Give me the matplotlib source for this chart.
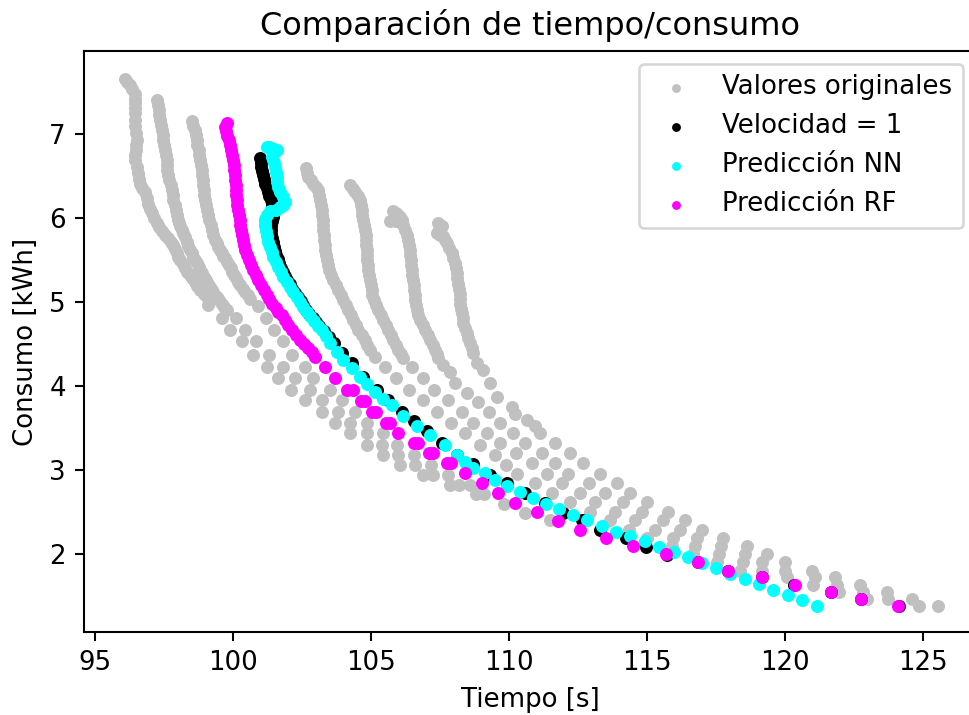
import matplotlib
matplotlib.use("Agg")
import matplotlib.pyplot as plt

# ---------------- data (x = Tiempo [s], y = Consumo [kWh]) ----------------
gray_a = [(96.10,7.66),(96.18,7.62),(96.28,7.58),(96.36,7.53),(96.44,7.48),(96.46,7.42),(96.46,7.37),(96.45,7.31),
          (96.44,7.25),(96.45,7.17),(96.46,7.09),(96.49,7.01),(96.52,6.93),(96.51,6.87),(96.50,6.81),(96.47,6.75),
          (96.46,6.69),(96.52,6.61),(96.58,6.53),(96.61,6.47),(96.64,6.41),(96.72,6.36),(96.82,6.31),(96.88,6.24),
          (96.94,6.17),(97.00,6.11),(97.06,6.06),(97.15,6.00),(97.24,5.94),(97.33,5.89),(97.43,5.84),(97.55,5.80),
          (97.67,5.76),(97.76,5.72),(97.85,5.68),(97.91,5.63),(97.97,5.58),(98.03,5.54),(98.09,5.50),(98.18,5.45),
          (98.27,5.40),(98.36,5.36),(98.45,5.32),(98.54,5.28),(98.63,5.24),(98.72,5.19),(98.81,5.14),(98.94,5.10),
          (99.06,5.06),(99.12,4.96),(99.60,4.81),(99.90,4.67),(100.33,4.53),(100.75,4.37),(101.23,4.23),(101.65,4.09),
          (102.10,3.95),(102.62,3.83),(103.22,3.69),(103.71,3.56),(104.25,3.44),(104.86,3.30),(105.46,3.18),
          (106.06,3.06),(106.91,2.94),(107.87,2.82),(108.80,2.71),(109.81,2.60),(110.59,2.49),(111.50,2.40)]
gray_b = [(97.25,7.40),(97.28,7.34),(97.31,7.29),(97.34,7.23),(97.37,7.17),(97.40,7.11),(97.43,7.05),(97.46,6.99),
          (97.49,6.93),(97.52,6.87),(97.55,6.81),(97.58,6.75),(97.61,6.69),(97.62,6.63),(97.63,6.57),(97.67,6.51),
          (97.70,6.45),(97.75,6.39),(97.79,6.33),(97.82,6.27),(97.85,6.22),(97.90,6.16),(97.95,6.10),(97.99,6.04),
          (98.03,5.98),(98.06,5.94),(98.09,5.90),(98.15,5.86),(98.21,5.82),(98.27,5.77),(98.33,5.72),(98.39,5.67),
          (98.45,5.62),(98.51,5.58),(98.57,5.54),(98.63,5.50),(98.69,5.46),(98.76,5.42),(98.82,5.38),(98.89,5.34),
          (98.95,5.30),(99.02,5.26),(99.10,5.22),(99.17,5.18),(99.25,5.14),(99.33,5.10),(99.42,5.06),(99.51,5.02),
          (99.60,4.98),(99.70,4.94),(99.80,4.90),(100.10,4.81),(100.45,4.67),(100.85,4.53),(101.30,4.37),
          (101.83,4.23),(102.26,4.09),(102.80,3.95),(103.22,3.83),(103.83,3.69),(104.25,3.56),(104.85,3.44),
          (105.40,3.30),(106.00,3.18),(106.61,3.06),(107.27,2.94),(108.20,2.82),(109.10,2.71)]
gray_c = [(98.51,7.15),(98.57,7.10),(98.63,7.05),(98.66,6.99),(98.69,6.93),(98.72,6.87),(98.76,6.81),(98.79,6.75),
          (98.82,6.69),(98.85,6.63),(98.88,6.57),(98.90,6.51),(98.91,6.45),(98.93,6.39),(98.94,6.33),(98.97,6.27),
          (99.00,6.22),(99.03,6.16),(99.06,6.10),(99.10,6.04),(99.15,5.98),(99.20,5.92),(99.24,5.86),(99.30,5.80),
          (99.36,5.74),(99.42,5.70),(99.48,5.66),(99.54,5.62),(99.60,5.58),(99.66,5.55),(99.72,5.52),(99.79,5.48),
          (99.85,5.44),(99.92,5.40),(99.98,5.36),(100.05,5.32),(100.12,5.28),(100.20,5.24),(100.28,5.20),
          (100.36,5.16),(100.45,5.12),(100.54,5.08),(100.62,5.04),(100.90,4.95),(101.20,4.81),(101.50,4.67),
          (101.83,4.53),(102.14,4.37),(102.60,4.23),(102.92,4.09),(103.52,3.95),(103.95,3.83),(104.43,3.69),
          (104.85,3.56),(105.46,3.44),(105.94,3.30),(106.55,3.18),(107.20,3.06),(107.80,2.94),(108.60,2.82)]
gray_d = [(102.66,6.59),(102.70,6.54),(102.74,6.49),(102.83,6.45),(102.92,6.41),(103.01,6.37),(103.10,6.33),
          (103.13,6.27),(103.16,6.21),(103.19,6.15),(103.22,6.10),(103.24,6.04),(103.26,5.98),(103.27,5.92),
          (103.28,5.86),(103.30,5.80),(103.31,5.74),(103.33,5.68),(103.34,5.62),(103.37,5.56),(103.40,5.50),
          (103.45,5.44),(103.50,5.38),(103.57,5.32),(103.65,5.26),(103.74,5.20),(103.83,5.14),(103.92,5.08),
          (104.01,5.02),(104.10,4.96),(104.19,4.90),(104.28,4.84),(104.37,4.79),(104.46,4.73),(104.55,4.67),
          (104.67,4.61),(104.79,4.55),(104.88,4.49),(104.97,4.43),(105.15,4.35),(105.50,4.23),(105.90,4.09),
          (106.40,3.95),(106.90,3.83),(107.40,3.69),(107.90,3.56),(108.40,3.44),(108.95,3.30),(109.50,3.18),
          (109.90,3.06),(110.29,2.95),(110.95,2.84),(111.56,2.72),(112.22,2.62),(112.95,2.50),(113.67,2.40),
          (114.34,2.29),(115.00,2.19),(115.90,2.09),(116.69,2.00),(117.54,1.90),(118.38,1.80)]
gray_e = [(104.25,6.39),(104.34,6.35),(104.43,6.31),(104.52,6.26),(104.61,6.21),(104.64,6.15),(104.67,6.10),
          (104.70,6.04),(104.73,5.98),(104.76,5.92),(104.79,5.86),(104.81,5.80),(104.83,5.74),(104.84,5.68),
          (104.85,5.62),(104.87,5.56),(104.88,5.50),(104.90,5.44),(104.91,5.38),(104.94,5.32),(104.97,5.26),
          (105.00,5.20),(105.03,5.14),(105.06,5.08),(105.10,5.02),(105.19,4.96),(105.28,4.90),(105.37,4.84),
          (105.46,4.79),(105.55,4.73),(105.64,4.67),(105.73,4.61),(105.82,4.55),(105.91,4.49),(106.00,4.43),
          (106.09,4.38),(106.18,4.33),(106.50,4.23),(106.90,4.09),(107.30,3.95),(107.80,3.83),(108.30,3.69),
          (108.70,3.56),(109.20,3.44),(109.69,3.32),(110.25,3.20),(110.83,3.08),(111.38,2.95),(111.92,2.84),
          (112.58,2.72),(113.13,2.62),(113.85,2.50),(114.58,2.40),(115.30,2.29),(115.96,2.19),(116.75,2.09),
          (117.60,2.00),(118.50,1.90),(119.17,1.80),(120.07,1.72),(121.04,1.63),(121.98,1.55),(122.97,1.46)]
gray_f = [(105.82,6.08),(105.91,6.06),(106.00,6.04),(106.06,6.01),(106.12,5.98),(105.90,5.97),(105.70,5.96),
          (106.18,5.92),(106.24,5.86),(106.30,5.80),(106.36,5.74),(106.39,5.68),(106.42,5.62),(106.44,5.56),
          (106.45,5.50),(106.47,5.44),(106.48,5.38),(106.51,5.32),(106.54,5.26),(106.56,5.20),(106.57,5.14),
          (106.59,5.08),(106.60,5.02),(106.63,4.96),(106.66,4.90),(106.72,4.84),(106.79,4.79),(106.88,4.73),
          (106.97,4.67),(107.06,4.61),(107.15,4.55),(107.24,4.49),(107.33,4.43),(107.40,4.38),(107.45,4.33),
          (107.60,4.25),(107.87,4.17),(108.05,4.03),(108.50,3.92),(108.90,3.81),(109.30,3.69),(109.70,3.56),
          (110.17,3.44),(110.60,3.32),(111.19,3.20),(111.68,3.08),(112.16,2.95),(112.89,2.84),(113.49,2.72),
          (114.15,2.62),(114.82,2.50),(115.60,2.40),(116.21,2.29),(116.81,2.19),(117.69,2.09),(118.56,2.00),
          (119.17,1.90),(120.01,1.80),(121.10,1.72),(121.88,1.63),(122.85,1.55),(123.75,1.46),(124.88,1.38)]
gray_g = [(107.45,5.94),(107.51,5.92),(107.57,5.90),(107.48,5.86),(107.39,5.82),(107.51,5.80),(107.63,5.78),
          (107.69,5.74),(107.75,5.70),(107.84,5.64),(107.93,5.58),(107.99,5.52),(108.05,5.46),(108.08,5.40),
          (108.11,5.34),(108.14,5.28),(108.17,5.22),(108.20,5.16),(108.24,5.10),(108.24,5.04),(108.24,4.98),
          (108.27,4.92),(108.30,4.87),(108.33,4.81),(108.36,4.75),(108.42,4.69),(108.48,4.63),(108.54,4.57),
          (108.60,4.51),(108.66,4.45),(108.72,4.39),(108.84,4.27),(109.08,4.19),(109.32,4.03),(109.57,3.87),
          (110.11,3.75),(110.23,3.67),(110.65,3.60),(110.95,3.52),(111.13,3.44),(111.68,3.32),(112.22,3.20),
          (112.70,3.08),(113.31,2.95),(113.91,2.84),(114.40,2.72),(115.00,2.62),(115.78,2.50),(116.39,2.40),
          (116.99,2.29),(117.75,2.19),(118.62,2.09),(119.35,2.00),(120.01,1.90),(120.98,1.80),(121.82,1.72),
          (122.73,1.63),(123.70,1.55),(124.60,1.46),(125.57,1.38)]

vel1 = [(100.99,6.71),(101.01,6.66),(101.04,6.61),(101.07,6.56),(101.10,6.51),(101.14,6.46),(101.18,6.41),
        (101.23,6.36),(101.28,6.31),(101.33,6.26),(101.38,6.21),(101.42,6.16),(101.44,6.11),(101.45,6.06),
        (101.44,6.01),(101.42,5.96),(101.40,5.91),(101.39,5.86),(101.40,5.81),(101.42,5.76),(101.45,5.71),
        (101.49,5.66),(101.53,5.61),(101.58,5.56),(101.63,5.51),(101.69,5.46),(101.75,5.41),(101.82,5.36),
        (101.90,5.31),(101.98,5.26),(102.07,5.21),(102.16,5.16),(102.26,5.11),(102.36,5.06),(102.46,5.01),
        (102.56,4.96),(102.67,4.91),(102.78,4.86),(102.90,4.81),(103.02,4.76),(103.14,4.71),(103.30,4.65),
        (103.48,4.58),(103.68,4.51),(103.95,4.39),(104.31,4.27),(104.73,4.11),(105.22,3.95),(105.64,3.83),
        (106.12,3.69),(106.55,3.58),(107.03,3.46),(107.57,3.32),(108.11,3.18),(108.72,3.07),(109.32,2.94),
        (109.93,2.84),(110.59,2.72),(111.32,2.61),(111.96,2.49),(112.64,2.40),(113.31,2.29),(114.25,2.19),
        (114.96,2.08),(115.72,1.99),(116.87,1.90),(117.93,1.80),(119.17,1.72),(120.35,1.63),(121.68,1.55),
        (122.76,1.46),(124.14,1.38)]

pred_nn = [(101.23,6.85),(101.30,6.84),(101.40,6.83),(101.50,6.82),(101.59,6.81),(101.50,6.77),(101.41,6.73),
           (101.45,6.69),(101.50,6.65),(101.53,6.61),(101.55,6.55),(101.59,6.49),(101.62,6.43),(101.65,6.37),
           (101.72,6.31),(101.83,6.25),(101.89,6.19),(101.82,6.15),(101.71,6.13),(101.55,6.10),(101.35,6.08),
           (101.25,6.04),(101.17,5.99),(101.16,5.94),(101.17,5.90),(101.20,5.84),(101.23,5.78),(101.29,5.72),
           (101.35,5.66),(101.41,5.60),(101.47,5.54),(101.56,5.48),(101.65,5.42),(101.74,5.36),(101.83,5.30),
           (101.95,5.24),(102.08,5.18),(102.20,5.12),(102.32,5.06),(102.44,5.00),(102.56,4.94),(102.68,4.88),
           (102.80,4.83),(102.95,4.77),(103.10,4.71),(103.22,4.67),(103.37,4.59),(103.52,4.51),(103.76,4.41),
           (104.01,4.31),(104.31,4.21),(104.61,4.11),(104.88,4.02),(105.16,3.93),(105.46,3.85),(105.76,3.77),
           (106.18,3.64),(106.67,3.52),(107.15,3.42),(107.69,3.30),(108.11,3.18),(108.42,3.10),(108.72,3.02),
           (109.14,2.96),(109.50,2.88),(109.93,2.81),(110.41,2.74),(110.87,2.67),(111.35,2.60),(111.83,2.53),
           (112.34,2.46),(112.85,2.40),(113.37,2.33),(113.89,2.26),(114.40,2.21),(114.94,2.15),(115.45,2.08),
           (115.97,2.02),(116.48,1.96),(116.99,1.89),(117.51,1.83),(118.02,1.76),(118.56,1.70),(119.07,1.64),
           (119.59,1.57),(120.11,1.51),(120.64,1.45),(121.16,1.38)]

pred_rf = [(99.78,7.13),(99.72,7.08),(99.75,7.03),(99.80,6.98),(99.85,6.93),(99.90,6.87),(99.95,6.81),
           (99.98,6.75),(100.02,6.69),(100.04,6.63),(100.06,6.57),(100.07,6.51),(100.08,6.45),(100.10,6.39),
           (100.12,6.33),(100.13,6.27),(100.15,6.22),(100.17,6.16),(100.20,6.10),(100.22,6.04),(100.25,5.98),
           (100.28,5.92),(100.30,5.86),(100.33,5.80),(100.36,5.74),(100.40,5.68),(100.45,5.62),(100.52,5.56),
           (100.58,5.50),(100.66,5.44),(100.75,5.38),(100.84,5.32),(100.93,5.26),(101.02,5.20),(101.12,5.14),
           (101.23,5.08),(101.33,5.03),(101.43,4.98),(101.55,4.93),(101.65,4.88),(101.77,4.84),(101.89,4.79),
           (102.01,4.73),(102.14,4.67),(102.29,4.61),(102.44,4.55),(102.59,4.50),(102.74,4.45),(102.86,4.40),
           (102.98,4.35),(103.34,4.23),(103.71,4.09),(104.15,3.95),(104.35,3.95),
           (104.65,3.82),(104.80,3.82),(105.05,3.69),(105.20,3.69),(105.55,3.56),(105.70,3.56),(106.00,3.44),
           (106.55,3.32),(106.70,3.32),(107.10,3.20),(107.25,3.20),(107.75,3.08),(107.90,3.08),(108.42,2.96),
           (109.02,2.84),(109.62,2.72),(110.23,2.61),(111.01,2.50),(111.77,2.39),(112.58,2.29),(113.51,2.19),
           (114.52,2.09),(115.70,2.00),(116.87,1.90),(117.93,1.80),(119.17,1.72),(120.37,1.63),(121.68,1.55),
           (122.76,1.46),(124.09,1.38)]

x_ticks = [95, 100, 105, 110, 115, 120, 125]
y_ticks = [2, 3, 4, 5, 6, 7]


def xs(pts):
    return [p[0] for p in pts]


def ys(pts):
    return [p[1] for p in pts]


gray_all = gray_a + gray_b + gray_c + gray_d + gray_e + gray_f + gray_g

fig = plt.figure(figsize=(969 / 187, 715 / 187), dpi=187)
ax = fig.add_axes([84 / 969, 83 / 715, 892 / 969, 581 / 715])

S = 25
ax.scatter(xs(gray_all), ys(gray_all), s=S, c="silver", linewidths=0, label="Valores originales")
ax.scatter(xs(vel1), ys(vel1), s=S, c="black", linewidths=0, label="Velocidad = 1")
ax.scatter(xs(pred_nn), ys(pred_nn), s=S, c="cyan", linewidths=0, label="Predicción NN")
ax.scatter(xs(pred_rf), ys(pred_rf), s=S, c="magenta", linewidths=0, label="Predicción RF")

ax.set_xlim(94.61, 126.93)
ax.set_ylim(1.071, 7.988)
ax.set_xticks(x_ticks)
ax.set_yticks(y_ticks)
ax.set_title("Comparación de tiempo/consumo", fontsize=12.3)
ax.set_xlabel("Tiempo [s]")
ax.set_ylabel("Consumo [kWh]")
ax.legend(loc="upper right", markerscale=0.68)

fig.savefig("out.png", dpi=187)
